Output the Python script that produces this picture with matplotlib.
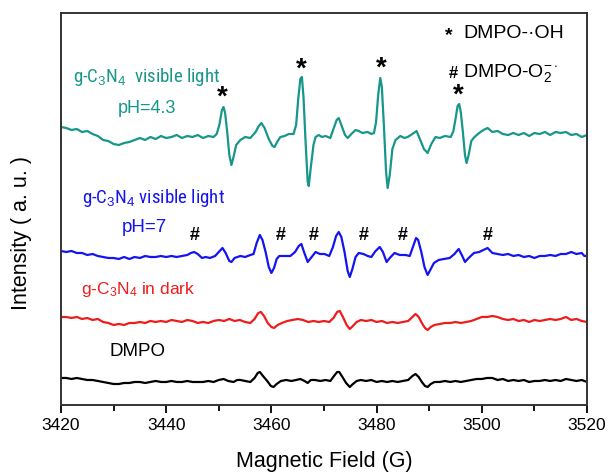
import numpy as np
import matplotlib
matplotlib.use('Agg')
import matplotlib.pyplot as plt
from matplotlib.ticker import MultipleLocator
from matplotlib import font_manager

plt.rcParams['font.family'] = ['Liberation Sans', 'DejaVu Sans']
plt.rcParams['mathtext.fontset'] = 'custom'
plt.rcParams['mathtext.rm'] = 'Liberation Sans'
plt.rcParams['mathtext.it'] = 'Liberation Sans:italic'

names = {f.name for f in font_manager.fontManager.ttflist}
narrow = next((n for n in ['Liberation Sans Narrow', 'Roboto Condensed', 'Arial Narrow']
               if n in names), None)

# Traced spectra: (field in G, signal in a.u. relative to each trace's baseline)
teal_trace = [
    (3420.0, 10), (3421.0, 9), (3422.0, 7), (3423.0, 8), (3424.0, 5), (3425.0, 6), (3426.0, 3),
    (3427.0, 1), (3428.0, -3), (3429.0, -4), (3430.0, -7), (3431.0, -8), (3432.0, -6), (3433.0, -5),
    (3434.0, -3), (3435.0, -1), (3436.0, -3), (3437.0, 0), (3438.0, -2), (3439.0, 1), (3440.0, -1),
    (3441.0, 0), (3442.0, 2), (3443.0, -1), (3444.0, 1), (3445.0, 0), (3446.0, 2), (3447.0, -1),
    (3448.0, 1), (3449.0, 0), (3449.6, 3), (3450.1, 12), (3450.6, 27), (3450.9, 30), (3451.2, 24),
    (3451.6, 5), (3452.0, -18), (3452.4, -28), (3452.8, -20), (3453.3, -8), (3454.1, -3), (3455.0, 0),
    (3456.0, -1), (3457.0, 5), (3457.6, 11), (3458.1, 14), (3458.7, 9), (3459.5, -2), (3460.2, -9),
    (3460.6, -10), (3461.1, -5), (3461.7, 0), (3462.5, 1), (3463.3, 3), (3464.2, 3), (3464.7, 12),
    (3465.1, 38), (3465.5, 58), (3465.8, 60), (3466.1, 40), (3466.5, -5), (3466.9, -45), (3467.1, -49),
    (3467.5, -30), (3468.0, -8), (3468.4, 0), (3469.0, 2), (3469.6, 0), (3470.3, 1), (3471.2, -1),
    (3471.8, 8), (3472.4, 17), (3472.8, 19), (3473.3, 12), (3474.0, 2), (3474.5, -1), (3475.2, 3),
    (3476.0, 7), (3476.6, 6), (3477.3, 4), (3478.3, 5), (3479.0, 3), (3479.5, 4), (3479.9, 15),
    (3480.3, 42), (3480.7, 59), (3481.0, 50), (3481.4, 10), (3481.8, -35), (3482.1, -51), (3482.5, -38),
    (3483.0, -12), (3483.6, -3), (3484.5, 1), (3485.3, -1), (3485.9, 0), (3486.8, 3), (3487.6, 6),
    (3488.3, -3), (3489.0, -12), (3489.7, -16), (3490.4, -7), (3491.2, 0), (3492.0, -1), (3493.0, 1),
    (3494.1, 0), (3494.6, 6), (3495.0, 18), (3495.4, 31), (3495.7, 33), (3496.0, 25), (3496.4, 5),
    (3496.8, -18), (3497.1, -26), (3497.5, -18), (3498.0, -4), (3498.6, 0), (3499.5, 4), (3500.3, 7),
    (3501.1, 9), (3502.0, 5), (3503.0, 6), (3504.0, 3), (3505.0, 2), (3506.0, 4), (3507.0, 2),
    (3508.0, 4), (3509.0, 1), (3510.0, 4), (3511.0, 3), (3512.0, 5), (3513.0, 2), (3514.0, 5),
    (3515.0, 4), (3516.0, 5), (3517.0, 2), (3518.0, 3), (3519.0, 0), (3520.0, 2),
]

blue_trace = [
    (3420.0, 4), (3421.0, 3), (3422.0, 4), (3423.0, 2), (3424.0, 2), (3425.0, 0), (3426.0, 1),
    (3427.0, -1), (3428.0, -2), (3429.0, -3), (3430.0, -3), (3431.0, -4), (3432.0, -2), (3433.0, -4),
    (3434.0, -2), (3435.0, -3), (3436.0, -1), (3437.0, -2), (3438.0, -2), (3439.0, -1), (3440.0, -2),
    (3441.0, -1), (3442.0, -2), (3443.0, -1), (3444.0, 0), (3444.7, 2), (3445.3, 3), (3446.0, 1),
    (3446.8, -3), (3447.5, -2), (3448.3, -3), (3449.3, -1), (3450.0, 3), (3450.7, 7), (3451.3, 2),
    (3452.0, -6), (3452.4, -7), (3453.0, -3), (3454.1, -1), (3455.0, -2), (3456.0, 0), (3456.6, 1),
    (3457.2, 12), (3457.8, 20), (3458.3, 15), (3458.9, 3), (3459.5, -12), (3460.0, -18), (3460.5, -13),
    (3461.0, -4), (3461.5, -1), (3462.5, -1), (3463.6, -1), (3464.5, 3), (3465.2, 9), (3465.7, 11),
    (3466.2, 3), (3466.9, -7), (3467.5, -3), (3468.4, 3), (3469.2, 1), (3470.1, 1), (3471.0, -1),
    (3471.7, 8), (3472.3, 19), (3472.8, 23), (3473.3, 18), (3473.9, 3), (3474.5, -16), (3474.9, -22),
    (3475.4, -14), (3476.0, -2), (3476.6, 2), (3477.5, 1), (3478.3, -1), (3479.0, -2), (3479.8, 4),
    (3480.6, 8), (3481.2, 3), (3481.9, -7), (3482.5, -3), (3483.4, 2), (3484.4, 0), (3485.5, 0),
    (3486.3, -1), (3486.9, 8), (3487.5, 17), (3487.9, 15), (3488.5, 3), (3489.1, -12), (3489.7, -20),
    (3490.2, -15), (3490.9, -8), (3491.8, -5), (3492.8, -4), (3493.9, -3), (3494.8, 1), (3495.6, 6),
    (3496.2, 0), (3496.8, -7), (3497.5, -3), (3498.5, 2), (3499.5, 3), (3500.3, 5), (3501.1, 7),
    (3502.0, 2), (3503.0, 1), (3504.0, 0), (3505.0, 1), (3506.0, -1), (3507.0, 0), (3508.0, -2),
    (3509.0, -1), (3510.0, -3), (3511.0, -1), (3512.0, -1), (3513.0, 0), (3514.0, -1), (3515.0, 1),
    (3516.0, 1), (3517.0, 3), (3518.0, 1), (3519.0, 2), (3519.5, -1), (3520.0, -1),
]

red_trace = [
    (3420.0, 4), (3421.0, 4), (3422.0, 3), (3423.0, 4), (3424.0, 2), (3425.0, 3), (3426.0, 1),
    (3427.0, 2), (3428.0, -1), (3429.0, -2), (3430.0, -4), (3431.0, -3), (3432.0, -4), (3433.0, -2),
    (3434.0, -2), (3435.0, -1), (3436.0, -2), (3437.0, 0), (3438.0, -1), (3439.0, 0), (3440.0, -1),
    (3441.0, 1), (3442.0, 0), (3443.0, -1), (3444.0, 1), (3445.0, 0), (3446.0, -2), (3447.0, -1),
    (3448.0, -2), (3449.0, 0), (3450.0, 1), (3451.0, 0), (3452.0, 2), (3453.0, 0), (3454.0, 1),
    (3455.0, -1), (3456.0, -2), (3456.8, 2), (3457.5, 8), (3458.0, 9), (3458.6, 5), (3459.3, -2),
    (3460.0, -6), (3460.5, -7), (3461.2, -4), (3462.0, -2), (3463.0, 0), (3464.0, 1), (3465.0, 2),
    (3466.0, 1), (3467.0, -1), (3468.0, 0), (3469.0, -1), (3470.0, 0), (3471.0, -1), (3471.8, 3),
    (3472.5, 9), (3473.0, 10), (3473.6, 4), (3474.3, -4), (3474.9, -8), (3475.5, -5), (3476.2, -1),
    (3477.0, 1), (3478.0, 0), (3479.0, 1), (3480.0, -1), (3481.0, 0), (3482.0, -2), (3483.0, -1),
    (3484.0, -2), (3485.0, -1), (3486.0, 0), (3486.8, 4), (3487.4, 7), (3488.0, 4), (3488.6, -2),
    (3489.2, -7), (3489.7, -9), (3490.3, -6), (3491.0, -4), (3492.0, -3), (3493.0, -2), (3494.0, -2),
    (3495.0, -1), (3496.0, -2), (3497.0, -1), (3498.0, 0), (3499.0, 2), (3500.0, 4), (3501.0, 4),
    (3502.0, 5), (3503.0, 4), (3504.0, 2), (3505.0, 1), (3506.0, 2), (3507.0, 0), (3508.0, 1),
    (3509.0, -1), (3510.0, 1), (3511.0, 0), (3512.0, 1), (3513.0, 2), (3514.0, 1), (3515.0, 2),
    (3516.0, 4), (3517.0, 1), (3518.0, 2), (3519.0, 0), (3520.0, -1),
]

black_trace = [
    (3420.0, 3), (3421.0, 3), (3422.0, 2), (3423.0, 3), (3424.0, 2), (3425.0, 1), (3426.0, 1),
    (3427.0, 0), (3428.0, -1), (3429.0, -2), (3430.0, -3), (3431.0, -3), (3432.0, -2), (3433.0, -2),
    (3434.0, -1), (3435.0, -1), (3436.0, -2), (3437.0, -1), (3438.0, 0), (3439.0, -1), (3440.0, -1),
    (3441.0, 0), (3442.0, -1), (3443.0, -1), (3444.0, 0), (3445.0, -1), (3446.0, -1), (3447.0, -1),
    (3448.0, 0), (3449.0, -1), (3450.0, 1), (3450.9, 2), (3451.8, 0), (3452.8, -1), (3453.5, 1),
    (3454.1, 1), (3455.0, 0), (3456.0, -1), (3456.8, 3), (3457.4, 8), (3457.8, 9), (3458.4, 5),
    (3459.2, 0), (3459.9, -5), (3460.4, -6), (3461.0, -3), (3461.8, 0), (3462.8, 1), (3463.8, 0),
    (3464.7, 1), (3465.5, 2), (3466.3, 0), (3466.9, -2), (3467.5, 1), (3468.3, 1), (3469.3, 0),
    (3470.3, 1), (3471.2, 0), (3471.9, 5), (3472.5, 9), (3472.9, 9), (3473.5, 4), (3474.2, -2),
    (3474.9, -6), (3475.5, -3), (3476.2, 0), (3477.0, 1), (3478.0, 0), (3479.0, 1), (3480.0, -1),
    (3481.0, 0), (3482.0, -1), (3483.0, 0), (3484.0, -1), (3485.0, 0), (3486.0, 1), (3486.8, 5),
    (3487.4, 7), (3488.0, 4), (3488.6, -1), (3489.2, -5), (3489.7, -6), (3490.3, -3), (3491.0, -1),
    (3492.0, -1), (3493.0, 0), (3494.0, -1), (3495.0, 0), (3496.0, -1), (3497.0, 0), (3498.0, 1),
    (3499.0, 2), (3500.0, 2), (3501.0, 3), (3502.0, 3), (3503.0, 1), (3504.0, 2), (3505.0, 0),
    (3506.0, 1), (3507.0, 0), (3508.0, 1), (3509.0, -1), (3510.0, 0), (3511.0, 0), (3512.0, 1),
    (3513.0, 0), (3514.0, 1), (3515.0, 0), (3516.0, 2), (3517.0, 1), (3518.0, 0), (3519.0, 1),
    (3520.0, -1),
]

# peak annotations (field positions)
oh_peaks = [3450.7, 3465.7, 3480.8, 3495.6]
oh_marker_y = [307, 335, 336, 309]
o2_peaks = [3445.5, 3461.7, 3468.0, 3477.5, 3485.0, 3501.1]

fig = plt.figure(figsize=(6.13, 4.73), dpi=100)
ax = fig.add_axes([0.0995, 0.1438, 0.8581, 0.8287])

traces = [
    (teal_trace, 268, '#17968a'),
    (blue_trace, 150, '#1414f0'),
    (red_trace, 84, '#ee1c1c'),
    (black_trace, 24, 'black'),
]
for trace, offset, color in traces:
    field, signal = zip(*trace)
    ax.plot(field, np.array(signal) + offset, color=color, lw=1.6)

for x, y in zip(oh_peaks, oh_marker_y):
    ax.text(x, y, '*', fontsize=20, fontweight='bold', ha='center', va='center')
for x in o2_peaks:
    ax.text(x, 169, '#', fontsize=13, fontweight='bold', ha='center', va='center')

# the "visible light" labels are drawn narrower than the others
if narrow:
    vl_kw = dict(fontsize=13.6, family=[narrow, 'Liberation Sans'])
else:
    vl_kw = dict(fontsize=11.8)
ax.text(3436.2, 328, 'g-C$_3$N$_4$  visible light', color='#17968a', ha='center',
        va='center', **vl_kw)
ax.text(3436.3, 297, 'pH=4.3', color='#17968a', fontsize=13, ha='center', va='center')
ax.text(3437.5, 207, 'g-C$_3$N$_4$ visible light', color='#1414f0', ha='center',
        va='center', **vl_kw)
ax.text(3435.9, 177, 'pH=7', color='#1414f0', fontsize=13.5, ha='center', va='center')
ax.text(3434.7, 115, 'g-C$_3$N$_4$ in dark', color='#ee1c1c', fontsize=12.5,
        ha='center', va='center')
ax.text(3434.6, 53, 'DMPO', color='black', fontsize=13.5, ha='center', va='center')

ax.text(3493.7, 369, '*', fontsize=14, fontweight='bold', ha='center', va='center')
ax.text(3496.5, 372, 'DMPO-·OH', fontsize=14, ha='left', va='center')
ax.text(3494.6, 332, '#', fontsize=12, fontweight='bold', ha='center', va='center')
ax.text(3496.5, 332, 'DMPO-O$_2^{-\\cdot}$', fontsize=14, ha='left', va='center')

ax.set_xlim(3420, 3520)
ax.set_ylim(0, 392)
ax.xaxis.set_major_locator(MultipleLocator(20))
ax.xaxis.set_minor_locator(MultipleLocator(10))
ax.tick_params(axis='x', which='major', direction='out', length=6, width=1.3, labelsize=12.5)
ax.tick_params(axis='x', which='minor', direction='out', length=4, width=1.3)
ax.set_yticks([])
for s in ax.spines.values():
    s.set_linewidth(1.4)
    s.set_color('#333333')

ax.set_xlabel('Magnetic Field (G)', fontsize=15.5, labelpad=13)
ax.set_ylabel('Intensity ( a. u. )', fontsize=15.5, labelpad=21, y=0.44)

fig.savefig('out.png', dpi=100)
